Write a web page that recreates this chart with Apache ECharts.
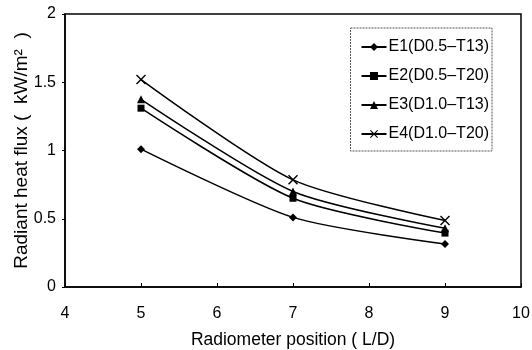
<!DOCTYPE html>
<html>
<head>
<meta charset="utf-8">
<script src="https://cdn.jsdelivr.net/npm/echarts@6/dist/echarts.min.js"></script>
<style>
  html, body { margin: 0; padding: 0; background: #fff; }
  #chart { width: 532px; height: 350px; }
</style>
</head>
<body>
<div id="chart"></div>
<script>
// Radiometer positions (L/D)
const positions = [5, 7, 9];

// Radiant heat flux (kW/m²) per experiment
const e1 = [1.01, 0.51, 0.315];
const e2 = [1.31, 0.65, 0.395];
const e3 = [1.375, 0.70, 0.43];
const e4 = [1.52, 0.785, 0.487];

const seriesNames = ['E1(D0.5\u2013T13)', 'E2(D0.5\u2013T20)', 'E3(D1.0\u2013T13)', 'E4(D1.0\u2013T20)'];
const seriesValues = [e1, e2, e3, e4];

const xTicks = [4, 5, 6, 7, 8, 9, 10];
const yTicks = [0, 0.5, 1, 1.5, 2];

// filled X-shaped marker
const crossPath = 'path://M1,0L5,4L9,0L10,1L6,5L10,9L9,10L5,6L1,10L0,9L4,5L0,1Z';
const symbols = ['diamond', 'rect', 'triangle', crossPath];
const symbolSizes = [8, 7, 8, 10];

const font = 'Liberation Sans, Arial, sans-serif';

const chart = echarts.init(document.getElementById('chart'), null, { renderer: 'canvas' });

chart.setOption({
  animation: false,
  backgroundColor: '#fff',
  grid: {
    left: 65, right: 11, top: 14, bottom: 63,
    outerBoundsMode: 'none', containLabel: false,
    show: true, borderColor: '#000', borderWidth: 1.5
  },
  legend: {
    orient: 'vertical',
    right: 40,
    top: 28,
    itemGap: 13,
    itemWidth: 25,
    itemHeight: 10,
    padding: [11, 3, 9, 10],
    borderColor: '#555',
    borderWidth: 1,
    borderType: [2, 1],
    textStyle: { fontFamily: font, fontSize: 16, color: '#000', padding: [0, 0, 0, -3] },
    data: seriesNames
  },
  xAxis: {
    type: 'value',
    min: xTicks[0],
    max: xTicks[xTicks.length - 1],
    interval: 1,
    name: 'Radiometer position ( L/D)',
    nameLocation: 'middle',
    nameGap: 44,
    nameMoveOverlap: false,
    nameTextStyle: { fontFamily: font, fontSize: 17.5, color: '#000' },
    axisLine: { show: true, lineStyle: { color: '#000', width: 1.5 } },
    axisTick: { show: true, inside: true, length: 4, lineStyle: { color: '#000' } },
    axisLabel: { fontFamily: font, fontSize: 16, color: '#000', margin: 19,
      formatter: v => xTicks.includes(v) ? String(v) : '' },
    splitLine: { show: false }
  },
  yAxis: {
    type: 'value',
    min: yTicks[0],
    max: yTicks[yTicks.length - 1],
    interval: 0.5,
    name: 'Radiant heat flux (  kW/m\u00b2  )',
    nameLocation: 'middle',
    nameGap: 34,
    nameMoveOverlap: false,
    nameTextStyle: { fontFamily: font, fontSize: 19, color: '#000' },
    axisLine: { show: true, lineStyle: { color: '#000', width: 1.5 } },
    axisTick: { show: true, length: 3, lineStyle: { color: '#000' } },
    axisLabel: { fontFamily: font, fontSize: 16, color: '#000', margin: 9,
      formatter: v => String(v) },
    splitLine: { show: false }
  },
  series: seriesValues.map((vals, i) => ({
    name: seriesNames[i],
    type: 'line',
    data: positions.map((x, j) => [x, vals[j]]),
    smooth: 0.25,
    symbol: symbols[i],
    symbolSize: symbolSizes[i],
    showAllSymbol: true,
    lineStyle: { color: '#000', width: 1.5 },
    itemStyle: { color: '#000' }
  }))
});
</script>
</body>
</html>
